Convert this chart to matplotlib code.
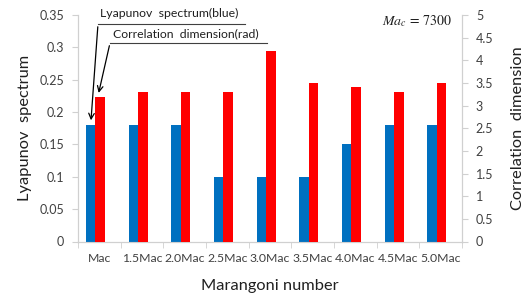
import matplotlib
matplotlib.use("Agg")
import matplotlib.pyplot as plt
import numpy as np

categories = ["Mac", "1.5Mac", "2.0Mac", "2.5Mac", "3.0Mac", "3.5Mac", "4.0Mac", "4.5Mac", "5.0Mac"]
lyapunov = [0.18, 0.18, 0.18, 0.10, 0.10, 0.10, 0.15, 0.18, 0.18]
corr_dim = [3.2, 3.3, 3.3, 3.3, 4.2, 3.5, 3.4, 3.3, 3.5]
left_ticks = [0, 0.05, 0.1, 0.15, 0.2, 0.25, 0.3, 0.35]
right_ticks = [0, 0.5, 1, 1.5, 2, 2.5, 3, 3.5, 4, 4.5, 5]

plt.rcParams['font.family'] = ['Lato', 'DejaVu Sans']
plt.rcParams['mathtext.fontset'] = 'stix'
spine_c = "#D0D0D0"
txt_c = "#404040"

fig = plt.figure(figsize=(5.26, 3.0), dpi=100)
ax = fig.add_axes([78/526, 1-241.5/300, (462-78)/526, (241.5-15)/300])
ax2 = ax.twinx()

x = np.arange(len(categories))
w = 0.22
shift = -0.09
ax.bar(x + shift - w/2, lyapunov, width=w, color="#0070C0", zorder=3)
ax2.bar(x + shift + w/2, corr_dim, width=w, color="#FF0000", zorder=3)

ax.set_xlim(-0.5, len(categories) - 0.5)
ax.set_ylim(0, 0.35)
ax2.set_ylim(0, 5)
ax.set_yticks(left_ticks)
ax.set_yticklabels([f"{t:g}" for t in left_ticks])
ax2.set_yticks(right_ticks)
ax2.set_yticklabels([f"{t:g}" for t in right_ticks])

ax.set_xticks(x)
ax.set_xticklabels(categories)
ax.set_xticks(np.arange(-0.5, len(categories)), minor=True)
ax.tick_params(axis='x', which='major', length=0, pad=8, labelsize=8.8, colors=txt_c)
ax.tick_params(axis='x', which='minor', length=4, color=spine_c)
ax.tick_params(axis='y', length=4, color=spine_c, labelsize=9, labelcolor=txt_c, pad=6)
ax2.tick_params(axis='y', length=4, color=spine_c, labelsize=9, labelcolor=txt_c, pad=6)

for a in (ax, ax2):
    a.spines['top'].set_visible(False)
    for s in ('left', 'right', 'bottom'):
        a.spines[s].set_color(spine_c)

ax.set_ylabel("Lyapunov  spectrum", fontsize=11.8, color="#202020", labelpad=5.5)
ax2.set_ylabel("Correlation  dimension", fontsize=11.8, color="#202020", labelpad=12.5)
ax.set_xlabel("Marangoni number", fontsize=11.8, color="#202020", labelpad=11)

ax2.text(0.975, 0.9735, r"$Ma_c\, =\, 7300$", transform=ax.transAxes, ha='right', va='center',
         fontsize=10, color="#202020")

def fp(px, py):
    return (px/526, 1 - py/300)

fig.text(*fp(100, 13), "Lyapunov  spectrum(blue)", fontsize=8.8, va='center', ha='left', color="#202020")
fig.text(*fp(113, 34), "Correlation  dimension(rad)", fontsize=8.8, va='center', ha='left', color="#202020")
ax.add_line(plt.Line2D([98/526, 245/526], [1-24/300, 1-24/300], transform=fig.transFigure, color="#404040", lw=0.8))
ax.add_line(plt.Line2D([110/526, 267/526], [1-43/300, 1-43/300], transform=fig.transFigure, color="#404040", lw=0.8))
ax.annotate("", xy=(0 + shift - w/2, lyapunov[0] + 0.003), xycoords='data',
            xytext=fp(98, 24), textcoords='figure fraction',
            arrowprops=dict(arrowstyle='->', color='black', lw=0.9))
ax2.annotate("", xy=(0 + shift + w/2 - 0.05, corr_dim[0] + 0.02), xycoords='data',
             xytext=fp(110, 43), textcoords='figure fraction',
             arrowprops=dict(arrowstyle='->', color='black', lw=0.9))

fig.savefig("out.png", dpi=100)
